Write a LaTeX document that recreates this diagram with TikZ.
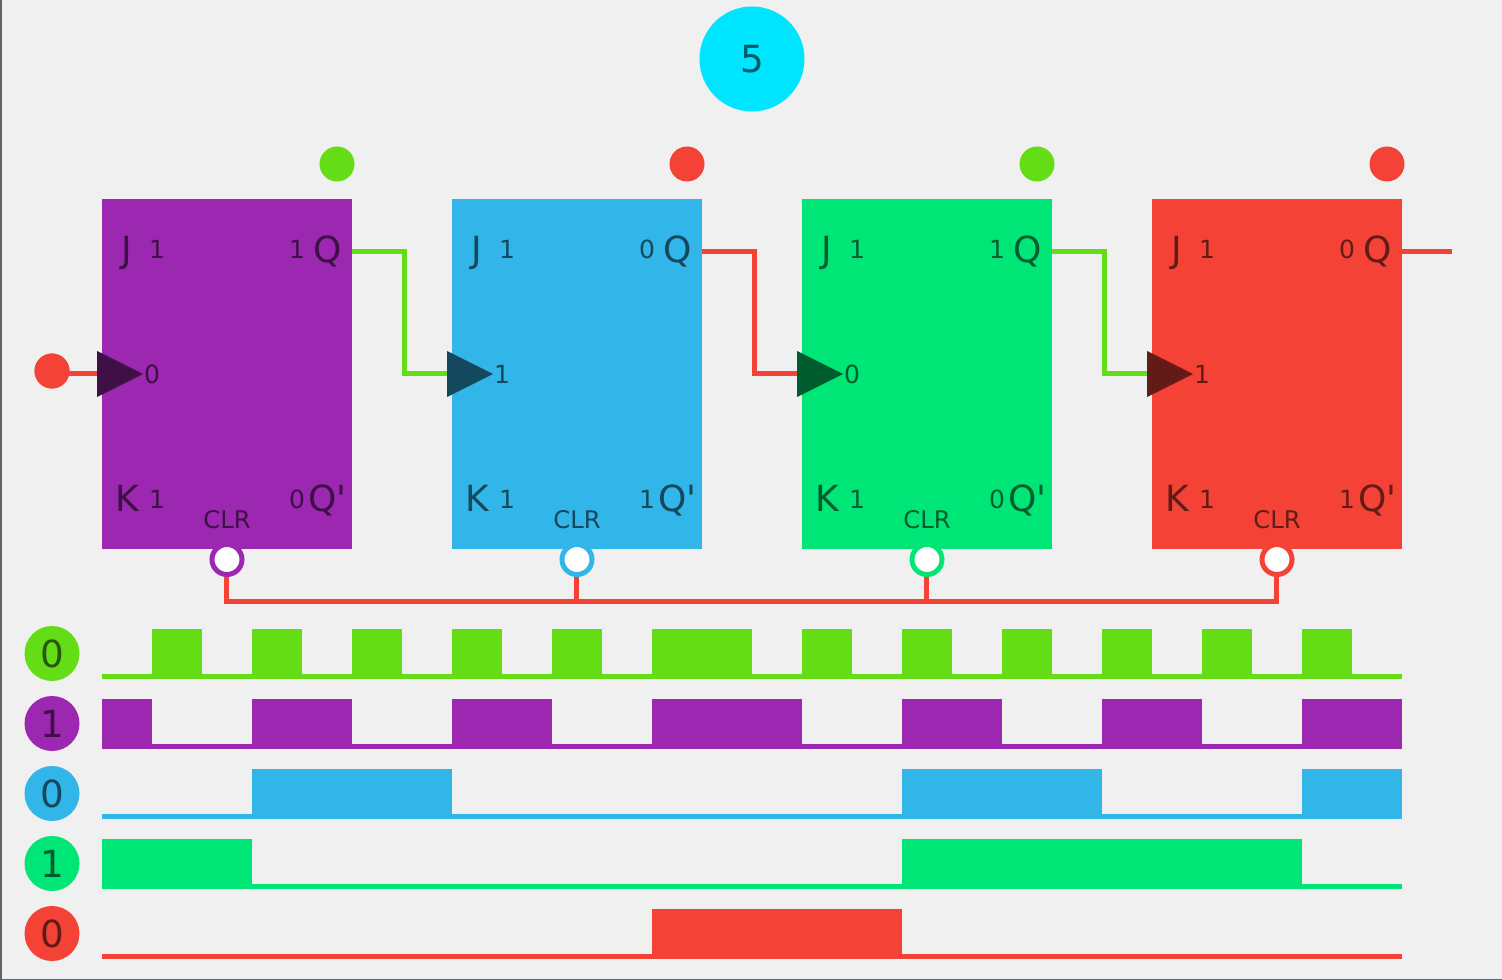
\documentclass[tikz,border=0pt]{standalone}
\usepackage{fontspec}
\setmainfont{DejaVu Sans}
\definecolor{cPurple}{HTML}{9C27B0}
\definecolor{cBlue}{HTML}{32B5E8}
\definecolor{cGreen}{HTML}{00E676}
\definecolor{cRed}{HTML}{F44336}
\definecolor{cLime}{HTML}{64DD17}
\definecolor{cCyan}{HTML}{00E5FF}
\definecolor{cBg}{HTML}{F0F0F0}
\definecolor{cEdge}{HTML}{5F6468}
\tikzset{
  x=0.75pt,y=-0.75pt,
  txt/.style={inner sep=0pt,outer sep=0pt,anchor=base},
  bigtxt/.style={txt,font=\fontsize{27}{27}\selectfont},
  smalltxt/.style={txt,font=\fontsize{18.75}{18.75}\selectfont},
  clrtxt/.style={txt,font=\fontsize{18.2}{18.2}\selectfont},
  wire/.style={line width=3.75pt,line cap=butt,line join=miter},
  ledtop/.style={circle,minimum size=26.25pt,inner sep=0pt,outer sep=0pt,fill=#1},
  clrdot/.style={circle,minimum size=22.5pt,inner sep=0pt,outer sep=0pt,fill=white,draw=#1,line width=3.75pt},
  legend/.style={circle,minimum size=41.25pt,inner sep=0pt,outer sep=0pt,fill=#1,text=black!60!#1,font=\fontsize{28}{28}\selectfont},
}
% \ff{index}{left x}{colour}{q}{nq}{clk}{led colour}
\newcommand{\ff}[7]{%
  \fill[#3] (#2,199) rectangle (#2+250,549);
  \coordinate (clk#1) at (#2-5,373.5);
  \coordinate (out#1) at (#2+250,251.5);
  \begin{scope}[every node/.append style={text=black!60!#3}]
    \node[bigtxt] (j#1) at (#2+25,263) {J};
    \node[smalltxt] (jv#1) at (#2+55,259) {1};
    \node[smalltxt] (qv#1) at (#2+195,259) {#4};
    \node[bigtxt] (q#1) at (#2+226,263) {Q};
    \node[smalltxt] (cv#1) at (#2+50,383) {#6};
    \node[bigtxt] (k#1) at (#2+25,511) {K};
    \node[smalltxt] (kv#1) at (#2+55,508) {1};
    \node[smalltxt] (nv#1) at (#2+195,508) {#5};
    \node[bigtxt] (nq#1) at (#2+225.5,511) {Q\textquotesingle};
    \node[clrtxt] (clrt#1) at (#2+125,528) {CLR};
  \end{scope}
  \node[ledtop=#7] (led#1) at (#2+235,164) {};
  \node[clrdot=#3] (clr#1) at (#2+125,559.5) {};
}
\begin{document}
\begin{tikzpicture}
\useasboundingbox (0,0) rectangle (1502,980);
\fill[cBg] (0,0) rectangle (1502,980);
\fill[cEdge] (0,0) rectangle (2,980);
\fill[cEdge] (0,978.5) rectangle (1502,980);

\node[circle,minimum size=78.75pt,inner sep=0pt,fill=cCyan,text=black!60!cCyan,font=\fontsize{28}{28}\selectfont] (count) at (752,59) {5};

\ff{1}{102}{cPurple}{1}{0}{0}{cLime}
\ff{2}{452}{cBlue}{0}{1}{1}{cRed}
\ff{3}{802}{cGreen}{1}{0}{0}{cLime}
\ff{4}{1152}{cRed}{0}{1}{1}{cRed}

% clock source
\node[ledtop=cRed] (src) at (52,371) {};
\draw[wire,cRed] (src.center |- clk1) -- (clk1);
\node[ledtop=cRed] at (52,371) {};

% ripple wires
\coordinate (endq) at (1452,251.5);
\draw[wire,cLime] (out1) -- (404.5,251.5) -- (404.5,373.5) -- (clk2);
\draw[wire,cRed]  (out2) -- (754.5,251.5) -- (754.5,373.5) -- (clk3);
\draw[wire,cLime] (out3) -- (1104.5,251.5) -- (1104.5,373.5) -- (clk4);
\draw[wire,cRed]  (out4) -- (endq);

% clear bus
\coordinate (busL) at (226.5,601.5);
\coordinate (busM1) at (576.5,601.5);
\coordinate (busM2) at (926.5,601.5);
\coordinate (busR) at (1276.5,601.5);
\draw[wire,cRed] (226.5,577) -- (busL) -- (busR) -- (1276.5,577);
\draw[wire,cRed] (576.5,577) -- (busM1);
\draw[wire,cRed] (926.5,577) -- (busM2);

% clock triangles
\fill[black!60!cPurple] (97,351) -- (143,374) -- (97,397) -- cycle;
\fill[black!60!cBlue] (447,351) -- (493,374) -- (447,397) -- cycle;
\fill[black!60!cGreen] (797,351) -- (843,374) -- (797,397) -- cycle;
\fill[black!60!cRed] (1147,351) -- (1193,374) -- (1147,397) -- cycle;

% legend
\node[legend=cLime] (l1) at (52,653.5) {0};
\node[legend=cPurple] (l2) at (52,723.5) {1};
\node[legend=cBlue] (l3) at (52,793.5) {0};
\node[legend=cGreen] (l4) at (52,863.5) {1};
\node[legend=cRed] (l5) at (52,933.5) {0};

% waveforms
\fill[cLime] (102,674) rectangle (1402,679);
\foreach \a/\b in {152/202,252/302,352/402,452/502,552/602,652/752,802/852,902/952,1002/1052,1102/1152,1202/1252,1302/1352}
  \fill[cLime] (\a,629) rectangle (\b,679);
\fill[cPurple] (102,744) rectangle (1402,749);
\foreach \a/\b in {102/152,252/352,452/552,652/802,902/1002,1102/1202,1302/1402}
  \fill[cPurple] (\a,699) rectangle (\b,749);
\fill[cBlue] (102,814) rectangle (1402,819);
\foreach \a/\b in {252/452,902/1102,1302/1402}
  \fill[cBlue] (\a,769) rectangle (\b,819);
\fill[cGreen] (102,884) rectangle (1402,889);
\foreach \a/\b in {102/252,902/1302}
  \fill[cGreen] (\a,839) rectangle (\b,889);
\fill[cRed] (102,954) rectangle (1402,959);
\fill[cRed] (652,909) rectangle (902,959);
\end{tikzpicture}
\end{document}
